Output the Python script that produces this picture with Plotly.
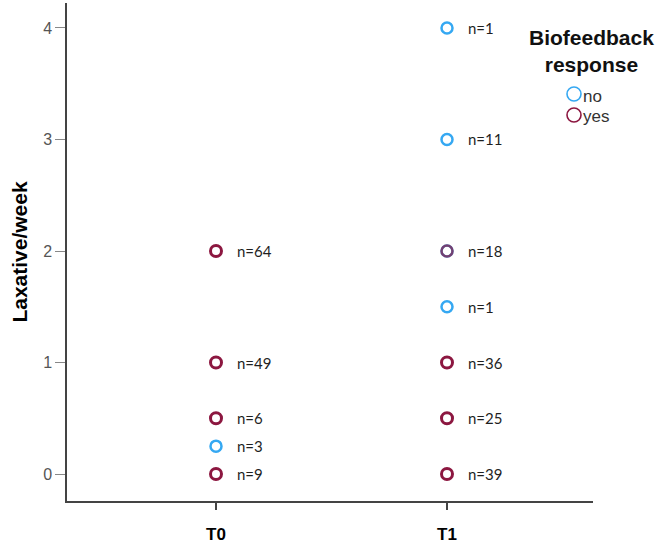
import plotly.graph_objects as go

# ---- data ----
timepoints = ["T0", "T1"]
no_x = ["T0", "T1", "T1", "T1", "T1"]
no_y = [0.25, 4, 3, 2, 1.5]
no_n = [3, 1, 11, 18, 1]
yes_x = ["T0", "T0", "T0", "T0", "T1", "T1", "T1"]
yes_y = [0, 0.5, 1, 2, 0, 0.5, 1]
yes_n = [9, 6, 49, 64, 39, 25, 36]
# T1 / 2 is shared by both groups (n=18 total)
shared_x = ["T1"]
shared_y = [2]
y_ticks = [0, 1, 2, 3, 4]

BLUE = "#35A8F2"
MAROON = "#8C1740"

W, H = 661, 544
L, R, T, B = 67, 68, 3, 43
pw, ph = W - L - R, H - T - B

fig = go.Figure()
fig.add_trace(go.Scatter(
    x=no_x, y=no_y, mode="markers", name="no", showlegend=False,
    marker=dict(symbol="circle-open", size=11, color=BLUE, line=dict(width=2.5, color=BLUE)),
))
fig.add_trace(go.Scatter(
    x=yes_x, y=yes_y, mode="markers", name="yes", showlegend=False,
    marker=dict(symbol="circle-open", size=11, color=MAROON, line=dict(width=3, color=MAROON)),
))
fig.add_trace(go.Scatter(
    x=shared_x, y=shared_y, mode="markers", name="yes", showlegend=False,
    marker=dict(symbol="circle-open", size=11, color=MAROON, opacity=0.72,
                line=dict(width=2.5, color=MAROON)),
))

annotations = []
for xs, ys, ns in [(no_x, no_y, no_n), (yes_x, yes_y, yes_n)]:
    for x, y, n in zip(xs, ys, ns):
        annotations.append(dict(
            x=x, y=y, xref="x", yref="y", text=f"n={n}", showarrow=False,
            xanchor="left", yanchor="middle", xshift=19,
            font=dict(family="Lato", size=15, color="#1f1f1f"),
        ))

# legend (drawn manually)
def px_x(px):
    return (px - L) / pw

def px_y(py):
    return (H - B - py) / ph

annotations.append(dict(
    x=px_x(591), y=px_y(51), xref="paper", yref="paper",
    text="<b>Biofeedback<br>response</b>", showarrow=False,
    xanchor="center", yanchor="middle", align="center",
    font=dict(family="Liberation Sans, Arial", size=21, color="#111"),
))
shapes = []
for label, col, cy in [("no", BLUE, 94), ("yes", MAROON, 115)]:
    r = 7
    shapes.append(dict(type="circle", xref="paper", yref="paper",
                       x0=px_x(574 - r), x1=px_x(574 + r), y0=px_y(cy + r), y1=px_y(cy - r),
                       line=dict(color=col, width=1.6)))
    annotations.append(dict(
        x=px_x(581), y=px_y(cy + 2), xref="paper", yref="paper", text=label,
        showarrow=False, xanchor="left", yanchor="middle",
        font=dict(family="Liberation Sans, Arial", size=17, color="#333"),
    ))

fig.update_layout(
    width=W, height=H,
    margin=dict(l=L, r=R, t=T, b=B, autoexpand=False),
    plot_bgcolor="white", paper_bgcolor="white",
    annotations=annotations, shapes=shapes,
    showlegend=False,
)
fig.update_xaxes(
    type="category", categoryorder="array", categoryarray=timepoints,
    range=[-0.645, 1.632],
    showgrid=False, zeroline=False,
    showline=True, linecolor="#444", linewidth=1.5,
    ticks="outside", ticklen=7, tickcolor="#444", tickwidth=1.5,
    tickfont=dict(family="Liberation Sans, Arial", size=17, color="#000"),
    ticklabelstandoff=10,
)
fig.for_each_xaxis(lambda a: a.update(ticktext=[f"<b>{t}</b>" for t in timepoints], tickvals=timepoints))
fig.update_yaxes(
    range=[-0.242, 4.224], tickvals=y_ticks,
    showgrid=False, zeroline=False,
    showline=True, linecolor="#444", linewidth=1.5,
    ticks="outside", ticklen=10, tickcolor="#888", tickwidth=1,
    tickfont=dict(family="Liberation Sans, Arial", size=16, color="#555"),
    title=dict(text="<b>Laxative/week</b>", standoff=10,
               font=dict(family="Liberation Sans, Arial", size=21, color="#000")),
)

fig.write_html("out.html", config={"displayModeBar": False},
               post_script="document.body.style.margin='0';document.body.style.overflow='hidden';")
